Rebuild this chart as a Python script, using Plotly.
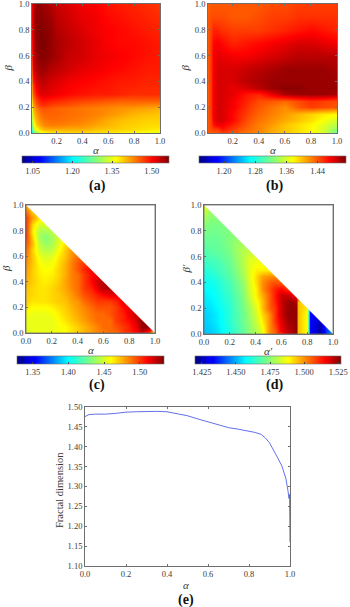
import plotly.graph_objects as go

W, H = 350, 607

# matplotlib-style jet
JET = [[0, "#00007f"], [0.11, "#0000ff"], [0.125, "#0000ff"], [0.35, "#00ffff"], [0.5, "#7fff7f"],
       [0.64, "#ffff00"], [0.89, "#ff0000"], [1, "#7f0000"]]

# ---------- panel (a)
x_a = [.01, .02, .04, .07, .1, .15, .2, .3, .4, .5, .6, .7, .8, .9, 1.0]
y_a = [0, .01, .03, .06, .1, .15, .19, .22, .26, .3, .4, .5, .6, .7, .8, .9, 1.0]
z_a = [
    [1.17, 1.20, 1.24, 1.28, 1.31, 1.33, 1.34, 1.35, 1.35, 1.35, 1.35, 1.34, 1.33, 1.31, 1.29],
    [1.22, 1.27, 1.31, 1.35, 1.37, 1.38, 1.385, 1.39, 1.39, 1.385, 1.38, 1.375, 1.37, 1.36, 1.35],
    [1.26, 1.32, 1.36, 1.39, 1.405, 1.41, 1.41, 1.41, 1.41, 1.40, 1.395, 1.39, 1.385, 1.38, 1.375],
    [1.30, 1.35, 1.39, 1.415, 1.43, 1.435, 1.435, 1.43, 1.425, 1.415, 1.405, 1.395, 1.39, 1.385, 1.385],
    [1.32, 1.37, 1.405, 1.43, 1.44, 1.445, 1.445, 1.44, 1.435, 1.425, 1.41, 1.40, 1.395, 1.39, 1.39],
    [1.34, 1.39, 1.42, 1.44, 1.45, 1.45, 1.45, 1.445, 1.44, 1.435, 1.425, 1.415, 1.405, 1.40, 1.395],
    [1.36, 1.405, 1.435, 1.455, 1.46, 1.455, 1.45, 1.445, 1.44, 1.435, 1.43, 1.425, 1.42, 1.415, 1.41],
    [1.38, 1.42, 1.45, 1.475, 1.48, 1.47, 1.465, 1.46, 1.45, 1.445, 1.44, 1.435, 1.435, 1.43, 1.43],
    [1.40, 1.44, 1.47, 1.495, 1.50, 1.495, 1.49, 1.48, 1.475, 1.47, 1.465, 1.46, 1.46, 1.46, 1.46],
    [1.42, 1.46, 1.49, 1.515, 1.52, 1.515, 1.51, 1.50, 1.495, 1.49, 1.49, 1.485, 1.48, 1.48, 1.48],
    [1.44, 1.49, 1.52, 1.535, 1.535, 1.525, 1.52, 1.51, 1.505, 1.50, 1.495, 1.49, 1.49, 1.485, 1.485],
    [1.47, 1.52, 1.54, 1.55, 1.55, 1.54, 1.535, 1.525, 1.515, 1.51, 1.505, 1.50, 1.495, 1.49, 1.49],
    [1.49, 1.53, 1.55, 1.56, 1.56, 1.555, 1.545, 1.53, 1.525, 1.515, 1.51, 1.505, 1.50, 1.495, 1.49],
    [1.50, 1.535, 1.555, 1.565, 1.565, 1.555, 1.545, 1.535, 1.525, 1.515, 1.505, 1.50, 1.50, 1.495, 1.49],
    [1.51, 1.54, 1.555, 1.565, 1.56, 1.555, 1.54, 1.53, 1.52, 1.51, 1.505, 1.50, 1.495, 1.49, 1.485],
    [1.51, 1.54, 1.555, 1.56, 1.555, 1.55, 1.535, 1.525, 1.515, 1.51, 1.50, 1.495, 1.49, 1.485, 1.48],
    [1.51, 1.535, 1.55, 1.555, 1.55, 1.54, 1.53, 1.52, 1.51, 1.505, 1.495, 1.49, 1.485, 1.48, 1.475],
]
ticks_a = [1.05, 1.20, 1.35, 1.50]

# ---------- panel (b)
x_b = [.01, .03, .05, .08, .12, .2, .3, .4, .5, .6, .7, .8, .9, 1.0]
y_b = [0, .03, .06, .1, .15, .2, .25, .3, .35, .4, .5, .6, .7, .8, .9, 1.0]
z_b = [
    [1.44, 1.44, 1.44, 1.44, 1.45, 1.44, 1.43, 1.42, 1.41, 1.40, 1.39, 1.38, 1.36, 1.31],
    [1.44, 1.445, 1.45, 1.45, 1.465, 1.45, 1.435, 1.425, 1.41, 1.40, 1.39, 1.38, 1.36, 1.33],
    [1.44, 1.45, 1.465, 1.475, 1.475, 1.46, 1.44, 1.425, 1.415, 1.40, 1.39, 1.38, 1.365, 1.345],
    [1.44, 1.45, 1.475, 1.485, 1.485, 1.47, 1.445, 1.43, 1.42, 1.41, 1.40, 1.39, 1.375, 1.36],
    [1.44, 1.455, 1.475, 1.485, 1.485, 1.47, 1.45, 1.435, 1.425, 1.415, 1.405, 1.395, 1.385, 1.38],
    [1.44, 1.455, 1.475, 1.485, 1.485, 1.475, 1.455, 1.44, 1.43, 1.42, 1.44, 1.45, 1.445, 1.44],
    [1.44, 1.455, 1.475, 1.485, 1.485, 1.475, 1.46, 1.445, 1.44, 1.435, 1.445, 1.455, 1.45, 1.445],
    [1.44, 1.455, 1.475, 1.485, 1.485, 1.48, 1.465, 1.46, 1.48, 1.50, 1.505, 1.505, 1.505, 1.50],
    [1.44, 1.455, 1.475, 1.485, 1.485, 1.48, 1.485, 1.495, 1.505, 1.51, 1.51, 1.505, 1.505, 1.505],
    [1.44, 1.455, 1.475, 1.485, 1.485, 1.485, 1.495, 1.50, 1.505, 1.505, 1.505, 1.505, 1.505, 1.505],
    [1.44, 1.455, 1.475, 1.485, 1.485, 1.485, 1.49, 1.495, 1.50, 1.505, 1.505, 1.505, 1.505, 1.50],
    [1.44, 1.455, 1.475, 1.48, 1.48, 1.475, 1.475, 1.48, 1.485, 1.49, 1.495, 1.495, 1.495, 1.495],
    [1.44, 1.455, 1.47, 1.475, 1.47, 1.46, 1.465, 1.47, 1.475, 1.48, 1.485, 1.485, 1.48, 1.475],
    [1.44, 1.45, 1.46, 1.46, 1.455, 1.45, 1.45, 1.45, 1.455, 1.46, 1.465, 1.47, 1.465, 1.46],
    [1.44, 1.445, 1.445, 1.445, 1.445, 1.44, 1.44, 1.445, 1.45, 1.45, 1.455, 1.455, 1.455, 1.455],
    [1.435, 1.44, 1.44, 1.44, 1.44, 1.44, 1.44, 1.44, 1.445, 1.445, 1.45, 1.45, 1.45, 1.45],
]
ticks_b = [1.20, 1.28, 1.36, 1.44]

# ---------- panel (c): rows stop just past the diagonal
x_c = [0, .05, .1, .15, .2, .25, .3, .35, .4, .45, .5, .55, .6, .65, .7, .75, .8, .85, .9, .95, 1.0]
y_c = [0, .05, .1, .15, .2, .25, .3, .35, .4, .45, .5, .55, .6, .65, .7, .75, .8, .85, .9, .95, 1.0]
z_c = [
    [1.45, 1.455, 1.455, 1.455, 1.455, 1.458, 1.46, 1.465, 1.47, 1.475, 1.48, 1.485, 1.485, 1.49, 1.49, 1.50, 1.505, 1.51, 1.52, 1.50, 1.43],
    [1.455, 1.455, 1.455, 1.455, 1.455, 1.458, 1.46, 1.465, 1.47, 1.475, 1.48, 1.485, 1.49, 1.49, 1.495, 1.50, 1.505, 1.515, 1.53, 1.53, 1.53],
    [1.455, 1.455, 1.455, 1.455, 1.455, 1.46, 1.465, 1.47, 1.475, 1.48, 1.485, 1.49, 1.49, 1.49, 1.50, 1.505, 1.51, 1.52, 1.53, 1.53],
    [1.458, 1.455, 1.455, 1.455, 1.458, 1.462, 1.468, 1.472, 1.478, 1.482, 1.487, 1.49, 1.49, 1.495, 1.50, 1.505, 1.515, 1.52, 1.525],
    [1.465, 1.46, 1.46, 1.46, 1.462, 1.466, 1.47, 1.475, 1.48, 1.485, 1.49, 1.495, 1.495, 1.495, 1.50, 1.51, 1.515, 1.52],
    [1.47, 1.465, 1.465, 1.465, 1.468, 1.47, 1.472, 1.478, 1.482, 1.49, 1.495, 1.50, 1.50, 1.50, 1.505, 1.515, 1.515],
    [1.47, 1.468, 1.465, 1.465, 1.468, 1.47, 1.475, 1.48, 1.488, 1.495, 1.50, 1.505, 1.51, 1.515, 1.515, 1.515],
    [1.472, 1.468, 1.465, 1.465, 1.468, 1.472, 1.477, 1.484, 1.49, 1.50, 1.505, 1.515, 1.525, 1.525, 1.52],
    [1.475, 1.47, 1.465, 1.463, 1.466, 1.47, 1.478, 1.485, 1.49, 1.50, 1.51, 1.52, 1.525, 1.525],
    [1.478, 1.47, 1.463, 1.461, 1.463, 1.468, 1.476, 1.485, 1.49, 1.50, 1.51, 1.515, 1.515],
    [1.48, 1.47, 1.462, 1.459, 1.461, 1.468, 1.476, 1.485, 1.495, 1.505, 1.51, 1.51],
    [1.482, 1.472, 1.46, 1.456, 1.458, 1.466, 1.475, 1.485, 1.495, 1.50, 1.50],
    [1.485, 1.472, 1.456, 1.45, 1.453, 1.463, 1.472, 1.482, 1.49, 1.49],
    [1.49, 1.47, 1.45, 1.444, 1.446, 1.458, 1.47, 1.48, 1.48],
    [1.495, 1.475, 1.445, 1.437, 1.44, 1.453, 1.465, 1.47],
    [1.50, 1.47, 1.44, 1.432, 1.44, 1.45, 1.455],
    [1.50, 1.465, 1.442, 1.44, 1.445, 1.45],
    [1.50, 1.47, 1.452, 1.452, 1.452],
    [1.50, 1.48, 1.465, 1.465],
    [1.49, 1.47, 1.47],
    [1.47, 1.47],
]
ticks_c = [1.35, 1.40, 1.45, 1.50]

# ---------- panel (d)
x_d = [0, .05, .1, .15, .2, .25, .3, .35, .4, .45, .5, .55, .6, .65, .71, .73, .8, .82, .9, .95, 1.0]
y_d = [0, .05, .1, .15, .2, .25, .3, .35, .4, .45, .5, .55, .6, .65, .7, .75, .8, .85, .9, .95, 1.0]
z_d = [
    [1.452, 1.453, 1.455, 1.458, 1.462, 1.466, 1.470, 1.475, 1.48, 1.485, 1.50, 1.505, 1.515, 1.52, 1.525, 1.495, 1.488, 1.432, 1.424, 1.44, 1.45],
    [1.452, 1.453, 1.455, 1.458, 1.462, 1.466, 1.47, 1.475, 1.48, 1.487, 1.50, 1.507, 1.517, 1.522, 1.525, 1.495, 1.488, 1.432, 1.424, 1.44, 1.45],
    [1.453, 1.454, 1.456, 1.459, 1.463, 1.467, 1.471, 1.476, 1.482, 1.49, 1.50, 1.51, 1.518, 1.524, 1.525, 1.495, 1.488, 1.432, 1.426, 1.44],
    [1.453, 1.454, 1.456, 1.459, 1.463, 1.467, 1.471, 1.477, 1.483, 1.492, 1.50, 1.51, 1.52, 1.525, 1.525, 1.495, 1.488, 1.432, 1.43],
    [1.454, 1.455, 1.457, 1.46, 1.463, 1.468, 1.472, 1.478, 1.485, 1.495, 1.505, 1.51, 1.52, 1.525, 1.525, 1.495, 1.49, 1.432],
    [1.455, 1.456, 1.458, 1.461, 1.464, 1.468, 1.473, 1.48, 1.487, 1.495, 1.505, 1.512, 1.52, 1.525, 1.523, 1.495, 1.49],
    [1.456, 1.457, 1.459, 1.462, 1.465, 1.469, 1.474, 1.482, 1.49, 1.497, 1.505, 1.513, 1.52, 1.52, 1.515],
    [1.457, 1.458, 1.46, 1.463, 1.466, 1.47, 1.475, 1.483, 1.49, 1.50, 1.507, 1.512, 1.515, 1.51],
    [1.458, 1.459, 1.461, 1.464, 1.467, 1.471, 1.476, 1.484, 1.492, 1.50, 1.505, 1.507, 1.505],
    [1.46, 1.461, 1.463, 1.466, 1.469, 1.473, 1.478, 1.485, 1.492, 1.498, 1.50, 1.50],
    [1.462, 1.463, 1.465, 1.467, 1.47, 1.474, 1.479, 1.485, 1.49, 1.49, 1.49],
    [1.464, 1.465, 1.466, 1.468, 1.471, 1.475, 1.48, 1.485, 1.487, 1.487],
    [1.466, 1.467, 1.468, 1.47, 1.472, 1.476, 1.48, 1.484, 1.485],
    [1.468, 1.469, 1.47, 1.471, 1.473, 1.477, 1.48, 1.48],
    [1.47, 1.47, 1.47, 1.472, 1.474, 1.477, 1.478],
    [1.471, 1.471, 1.471, 1.472, 1.474, 1.475],
    [1.473, 1.472, 1.472, 1.473, 1.474],
    [1.475, 1.473, 1.473, 1.473],
    [1.478, 1.475, 1.474],
    [1.483, 1.476],
    [1.485],
]
ticks_d = [1.425, 1.450, 1.475, 1.500, 1.525]

# ---------- panel (e)
x_e = [0, .01, .02, .05, .1, .15, .2, .25, .3, .32, .35, .4, .45, .5, .55, .6, .65, .7, .75, .8, .83, .86, .88,
       .9, .92, .94, .96, .98, .99, .995, .998, 1.0, .999, 1.0]
y_e = [1.476, 1.478, 1.481, 1.482, 1.482, 1.484, 1.487, 1.488, 1.489, 1.490, 1.489, 1.488, 1.483, 1.478, 1.470,
       1.463, 1.455, 1.448, 1.444, 1.44, 1.436, 1.431, 1.422, 1.41, 1.392, 1.372, 1.352, 1.32, 1.29, 1.27, 1.28,
       1.2, 1.26, 1.16]

TXT = "#3a3a3a"
FONT = "Liberation Serif"
FRAME = "#6e6e6e"


def pad(rows, n):
    return [r + [r[-1]] * (n - len(r)) for r in rows]


def fx(px):
    return px / W


def fy(py):
    return 1 - py / H


panels = [
    dict(n="", x=x_a, y=y_a, z=z_a, box=(32, 160, 4, 133), xr=[.01, 1], zr=(1.01, 1.565), t=ticks_a, fmt=".2f",
         cb=(22, 169, 156, 163), xt=[.2, .4, .6, .8, 1.0], xl="α", yl="β", lab="(a)", tri=False, yt=24, lx=97, ly=186),
    dict(n="2", x=x_b, y=y_b, z=z_b, box=(208, 337, 4, 133), xr=[.01, 1], zr=(1.137, 1.514), t=ticks_b, fmt=".2f",
         cb=(199.5, 346, 156, 163), xt=[.2, .4, .6, .8, 1.0], xl="α", yl="β", lab="(b)", tri=False, yt=23, lx=274, ly=186),
    dict(n="3", x=x_c, y=y_c, z=pad(z_c, 21), box=(26, 155, 205, 333), xr=[0, 1], zr=(1.328, 1.534), t=ticks_c, fmt=".2f",
         cb=(17, 164, 356, 364), xt=[0, .2, .4, .6, .8, 1.0], xl="α", yl="β", lab="(c)", tri=True, yt=20, lx=97, ly=385),
    dict(n="4", x=x_d, y=y_d, z=pad(z_d, 21), box=(204, 333, 205, 334), xr=[0, 1], zr=(1.42, 1.527), t=ticks_d, fmt=".3f",
         cb=(195, 341, 356, 364), xt=[0, .2, .4, .6, .8, 1.0], xl="α′", yl="β′", lab="(d)", tri=True, yt=19, lx=274, ly=385),
]

fig = go.Figure()
layout = dict(width=W, height=H, margin=dict(l=0, r=0, t=0, b=0, autoexpand=False), paper_bgcolor="white",
              plot_bgcolor="white", showlegend=False, font=dict(family=FONT, size=8.5, color=TXT))
annots, shapes = [], []


def axis(domain, anchor, rng, vals, fmt=".1f"):
    return dict(domain=domain, anchor=anchor, range=rng, tickvals=vals, ticktext=[format(v, fmt) for v in vals],
                ticks="inside", ticklen=2, tickwidth=0.6, tickcolor=FRAME, showline=True, linecolor=FRAME, linewidth=0.8,
                mirror="ticks", showgrid=False, zeroline=False, automargin=False, ticklabeloverflow="allow",
                tickfont=dict(family=FONT, size=8.5, color=TXT))


ycoord = [0, .2, .4, .6, .8, 1.0]
for p in panels:
    L, R, T, B = p["box"]
    xa, ya = "x" + p["n"], "y" + p["n"]
    layout["xaxis" + p["n"]] = axis([fx(L), fx(R)], ya, p["xr"], p["xt"])
    layout["yaxis" + p["n"]] = axis([fy(B), fy(T)], xa, [0, 1], ycoord)
    c0, c1, c2, c3 = p["cb"]
    fig.add_trace(go.Heatmap(
        x=p["x"], y=p["y"], z=p["z"], xaxis=xa, yaxis=ya, colorscale=JET, zmin=p["zr"][0], zmax=p["zr"][1],
        zsmooth="best", hoverinfo="skip",
        colorbar=dict(orientation="h", x=fx(c0), xanchor="left", y=fy(c2), yanchor="top", len=c1 - c0, lenmode="pixels",
                      thickness=c3 - c2, thicknessmode="pixels", xpad=0, ypad=0, tickvals=p["t"],
                      ticktext=[format(v, p["fmt"]) for v in p["t"]], ticks="inside", ticklen=2, tickwidth=0.5,
                      tickcolor="#444", outlinecolor=FRAME, outlinewidth=0.6, ticklabeloverflow="allow",
                      tickfont=dict(family=FONT, size=8.5, color=TXT)),
    ))
    if p["tri"]:
        shapes.append(dict(type="path", xref=xa, yref=ya, path="M0,1 L1,0 L1.01,1.01 L0,1.01 Z",
                           fillcolor="white", line=dict(width=0), layer="above"))
        shapes.append(dict(type="rect", xref=xa + " domain", yref=ya + " domain", x0=0, x1=1, y0=0, y1=1,
                           line=dict(color=FRAME, width=0.8), layer="above"))
    annots.append(dict(x=fx((L + R) / 2), y=fy(B + 17), xref="paper", yref="paper", text="<i>%s</i>" % p["xl"],
                       showarrow=False, font=dict(family=FONT, size=11, color=TXT), xanchor="center", yanchor="middle"))
    annots.append(dict(x=fx(L - p["yt"]), y=fy((T + B) / 2), xref="paper", yref="paper", text="<i>%s</i>" % p["yl"],
                       showarrow=False, textangle=-90, font=dict(family=FONT, size=11, color=TXT),
                       xanchor="center", yanchor="middle"))
    annots.append(dict(x=fx(p["lx"]), y=fy(p["ly"]), xref="paper", yref="paper",
                       text="<b>%s</b>" % p["lab"], showarrow=False, font=dict(family=FONT, size=14, color="#111"),
                       xanchor="center", yanchor="middle"))

# panel (e)
layout["xaxis5"] = axis([fx(85), fx(290)], "y5", [0, 1], [0, .2, .4, .6, .8, 1.0])
layout["yaxis5"] = axis([fy(566), fy(407)], "x5", [1.10, 1.50], [1.10 + .05 * i for i in range(9)], ".2f")
fig.add_trace(go.Scatter(x=x_e, y=y_e, xaxis="x5", yaxis="y5", mode="lines", line=dict(color="#5060e8", width=0.9),
                         hoverinfo="skip"))
annots.append(dict(x=fx(186), y=fy(585), xref="paper", yref="paper", text="<i>α</i>", showarrow=False,
                   xanchor="center", yanchor="middle", font=dict(family=FONT, size=11, color=TXT)))
annots.append(dict(x=fx(59), y=fy(490), xref="paper", yref="paper", text="Fractal dimension", showarrow=False,
                   xanchor="center", yanchor="middle", textangle=-90, font=dict(family=FONT, size=10.5, color=TXT)))
annots.append(dict(x=fx(186), y=fy(600), xref="paper", yref="paper", text="<b>(e)</b>", showarrow=False,
                   xanchor="center", yanchor="middle", font=dict(family=FONT, size=14, color="#111")))

layout["annotations"] = annots
layout["shapes"] = shapes
fig.update_layout(**layout)
fig.write_html("out.html", config=dict(displayModeBar=False),
               post_script="document.body.style.margin='0';document.body.style.overflow='hidden';")
